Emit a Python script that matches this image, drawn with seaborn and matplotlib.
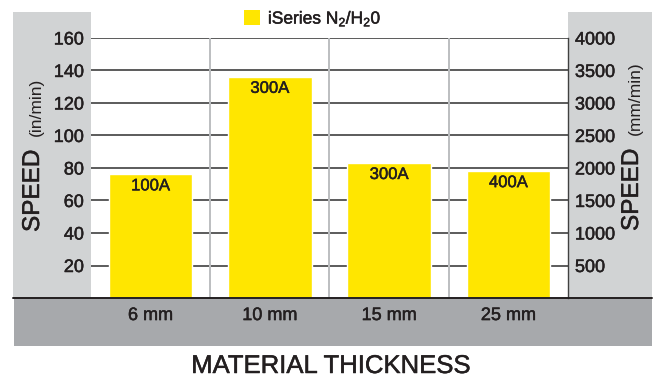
import matplotlib
matplotlib.use('Agg')
import matplotlib.pyplot as plt
import matplotlib.patheffects as pe
from matplotlib.patches import Rectangle, Patch
from matplotlib.lines import Line2D
import seaborn as sns
import pandas as pd

# chart data
thickness = ['6 mm', '10 mm', '15 mm', '25 mm']
speed_in = [76, 136, 83, 78]
amps = ['100A', '300A', '300A', '400A']
left_ticks = [20, 40, 60, 80, 100, 120, 140, 160]
right_ticks = [500, 1000, 1500, 2000, 2500, 3000, 3500, 4000]
series_name = 'iSeries N$_2$/H$_2$0'

yellow = '#FFE600'
light_gray = '#D1D3D4'
dark_gray = '#A7A9AC'
ink = '#231F20'
# thicken the regular face a little, the original uses a medium weight
medium = [pe.withStroke(linewidth=0.35, foreground=ink)]

sns.set_theme(style='white')
plt.rcParams['font.family'] = ['Liberation Sans', 'DejaVu Sans']
plt.rcParams['mathtext.fontset'] = 'custom'
plt.rcParams['mathtext.rm'] = 'Liberation Sans'
plt.rcParams['mathtext.default'] = 'regular'

df = pd.DataFrame({'thickness': thickness, 'speed': speed_in, 'amps': amps})

fig = plt.figure(figsize=(6.54, 3.78), dpi=100)
fig.patch.set_facecolor('white')

# gray side panels and bottom band
fig.add_artist(Rectangle((0.020, 0.2116), 0.119, 0.757, transform=fig.transFigure,
                         facecolor=light_gray, edgecolor='none', zorder=-2))
fig.add_artist(Rectangle((0.8685, 0.2116), 0.129, 0.757, transform=fig.transFigure,
                         facecolor=light_gray, edgecolor='none', zorder=-2))
fig.add_artist(Rectangle((0.021, 0.085), 0.976, 0.1266, transform=fig.transFigure,
                         facecolor=dark_gray, edgecolor='none', zorder=-2))

ax = fig.add_axes([0.139, 0.2116, 0.7295, 0.688])
ax.set_facecolor('white')

sns.barplot(data=df, x='thickness', y='speed', color=yellow, saturation=1,
            width=0.7, ax=ax, zorder=3)

ax.set_ylim(0, 160)
ax.set_yticks(left_ticks)
for t in left_ticks:
    ax.axhline(t, color='#404040', lw=1.2, zorder=1)
for xv in [0.5, 1.5, 2.5]:
    ax.axvline(xv, color='#BCBEC0', lw=1.4, zorder=1)

for i, row in df.iterrows():
    ax.text(i, row['speed'] - 7, row['amps'], ha='center', va='center',
            fontsize=12, color=ink, zorder=4, path_effects=medium)

ax.set_xlabel('')
ax.set_ylabel('')
ax.tick_params(axis='y', length=0, pad=5, labelsize=13, labelcolor=ink)
ax.tick_params(axis='x', length=0, pad=6.5, labelsize=13, labelcolor=ink)
for s in ['left', 'top', 'bottom']:
    ax.spines[s].set_visible(False)
ax.spines['right'].set_color('#404040')
ax.spines['right'].set_linewidth(1.0)

ax2 = ax.twinx()
ax2.set_ylim(0, 4000)
ax2.set_yticks(right_ticks)
ax2.tick_params(axis='y', length=0, pad=5, labelsize=13, labelcolor=ink)
for s in ['left', 'top', 'bottom', 'right']:
    ax2.spines[s].set_visible(False)
ax2.grid(False)

for lab in ax.get_xticklabels() + ax.get_yticklabels() + ax2.get_yticklabels():
    lab.set_path_effects(medium)

# bottom dark line across the full width
fig.add_artist(Line2D([0.020, 0.997], [0.2116, 0.2116], transform=fig.transFigure,
                      color=ink, lw=1.4, zorder=5))

# axis titles
fig.text(33 / 654, 1 - 191 / 378, 'SPEED', rotation=90, ha='center', va='center',
         fontsize=17.5, color=ink, path_effects=medium)
fig.text(36 / 654, 1 - 107 / 378, '(in/min)', rotation=90, ha='center', va='center',
         fontsize=12.5, color=ink)
fig.text(632 / 654, 1 - 190 / 378, 'SPEED', rotation=90, ha='center', va='center',
         fontsize=17.5, color=ink, path_effects=medium)
fig.text(635 / 654, 1 - 98 / 378, '(mm/min)', rotation=90, ha='center', va='center',
         fontsize=12.5, color=ink)
fig.text(331 / 654, 1 - 366 / 378, 'MATERIAL THICKNESS', ha='center', va='center',
         fontsize=18.5, color=ink, path_effects=medium)

leg = fig.legend(handles=[Patch(facecolor=yellow, edgecolor='none', label=series_name)],
                 loc='center', bbox_to_anchor=(313 / 654, 1 - 19 / 378), frameon=False,
                 fontsize=12.5, handlelength=0.9, handleheight=0.9, handletextpad=0.45,
                 labelcolor=ink, borderpad=0)
for txt in leg.get_texts():
    txt.set_path_effects(medium)

fig.savefig('out.png', dpi=100)
